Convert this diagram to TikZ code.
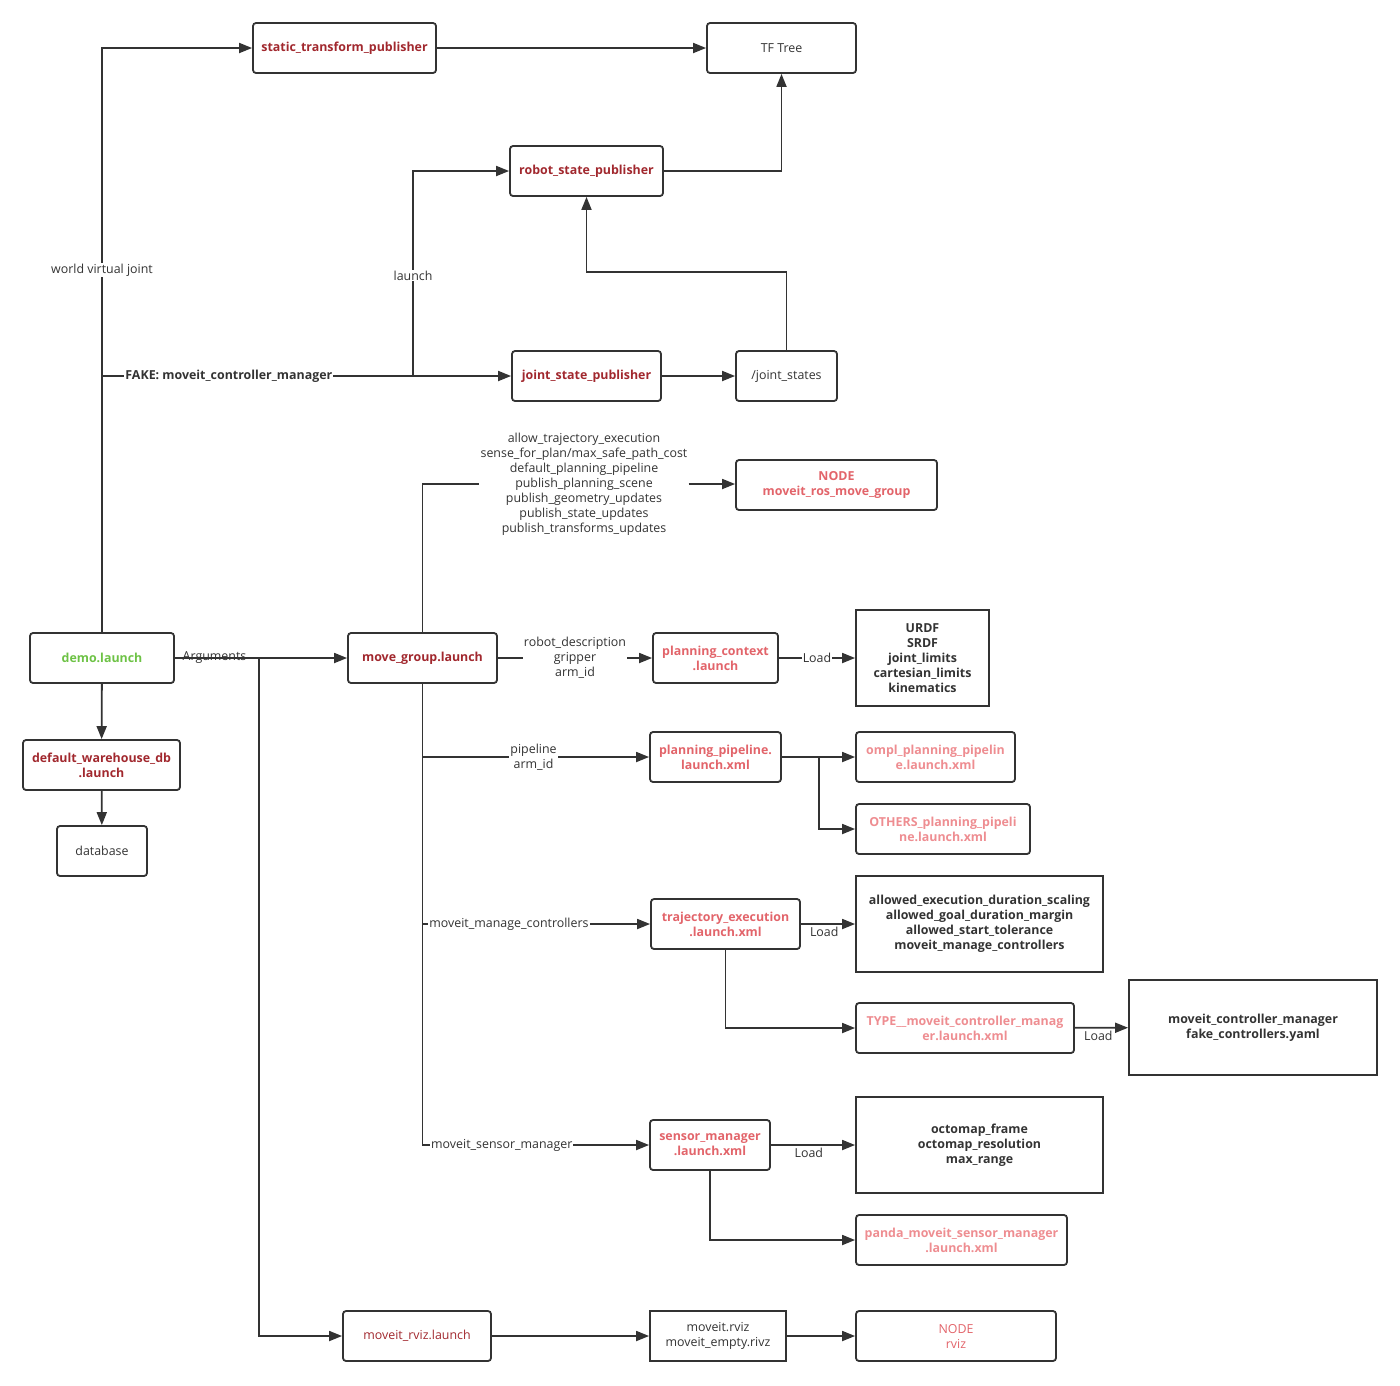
\documentclass[tikz,border=0pt]{standalone}
\usepackage{fontspec}
\setmainfont{Open Sans}
\usetikzlibrary{arrows.meta}
\definecolor{mvline}{HTML}{333333}
\definecolor{mvtext}{HTML}{333333}
\definecolor{mvdred}{HTML}{A1282E}
\definecolor{mvlred}{HTML}{E2646A}
\definecolor{mvpink}{HTML}{EE8D91}
\definecolor{mvgreen}{HTML}{6DC245}
\newcommand{\mvtxt}{\fontsize{12.4}{15}\selectfont}
\tikzset{
  box/.style={draw=mvline,line width=1.8pt,minimum height=50pt,inner sep=0pt,align=center},
  lbl/.style={fill=white,inner sep=1pt,font=\mvtxt,text=mvtext,align=center},
  lbln/.style={inner sep=2pt,font=\mvtxt,text=mvtext},
  arr/.style={draw=mvline,line width=1.8pt,-{Triangle[length=13pt,width=10pt]}},
  wire/.style={draw=mvline,line width=1.8pt}}

\begin{document}
\begin{tikzpicture}[x=1pt,y=-1pt]
  \useasboundingbox (0,0) rectangle (1400,1385);
  % boxes
  \foreach \n/\x/\y/\w/\h/\c/\r/\f/\txt in {
    stp/344.5/48/183/50/mvdred/3/\bfseries/{static\_transform\_publisher},
    tf/781.5/48/149/50/mvtext/3/\mdseries/{TF Tree},
    rsp/586.5/171/153/50/mvdred/3/\bfseries/{robot\_state\_publisher},
    jsp/586.5/376/149/50/mvdred/3/\bfseries/{joint\_state\_publisher},
    js/786.5/376/101/50/mvtext/3/\mdseries/{/joint\_states},
    nmg/836.5/485/201/50/mvlred/3/\bfseries/{NODE\\moveit\_ros\_move\_group},
    demo/102/658/144/50/mvgreen/3/\bfseries/{demo.launch},
    mg/422.5/658/149/50/mvdred/3/\bfseries/{move\_group.launch},
    pc/715.5/658/125/50/mvlred/3/\bfseries/{planning\_context\\.launch},
    urdf/922.5/658/133/96/mvtext/0/\bfseries/{URDF\\SRDF\\joint\_limits\\cartesian\_limits\\kinematics},
    dwh/101.5/765/157/50/mvdred/3/\bfseries/{default\_warehouse\_db\\.launch},
    db/102/851/90/50/mvtext/3/\mdseries/{database},
    pp/715.5/757/131/50/mvlred/3/\bfseries/{planning\_pipeline.\\launch.xml},
    ompl/935.5/757/159/50/mvpink/3/\bfseries/{ompl\_planning\_pipelin\\e.launch.xml},
    oth/943/829/174/50/mvpink/3/\bfseries/{OTHERS\_planning\_pipeli\\ne.launch.xml},
    te/725.5/924/149/50/mvlred/3/\bfseries/{trajectory\_execution\\.launch.xml},
    alw/979.5/924/247/96/mvtext/0/\bfseries/{allowed\_execution\_duration\_scaling\\allowed\_goal\_duration\_margin\\allowed\_start\_tolerance\\moveit\_manage\_controllers},
    typ/965/1028/218/50/mvpink/3/\bfseries/{TYPE\_\_moveit\_controller\_manag\\er.launch.xml},
    mcm/1253/1027.5/248/95/mvtext/0/\bfseries/{moveit\_controller\_manager\\fake\_controllers.yaml},
    sm/710/1145/120/50/mvlred/3/\bfseries/{sensor\_manager\\.launch.xml},
    oct/979.5/1145/247/96/mvtext/0/\bfseries/{octomap\_frame\\octomap\_resolution\\max\_range},
    pnd/961.5/1240/211/50/mvpink/3/\bfseries/{panda\_moveit\_sensor\_manager\\.launch.xml},
    rviz/417/1336/148/50/mvdred/3/\mdseries/{moveit\_rviz.launch},
    rvf/718/1336/136/50/mvtext/0/\mdseries/{moveit.rviz\\moveit\_empty.rivz},
    nrv/956/1336/200/50/mvlred/3/\mdseries/{NODE\\rviz}}
    \node[box,minimum width=\w pt,minimum height=\h pt,rounded corners=\r pt,
          text=\c,font=\mvtxt\f] (\n) at (\x,\y) {\txt};
  % junctions
  \coordinate (jf) at (102,376);
  \coordinate (jl) at (413,376);
  \coordinate (jr) at (259,658);
  \coordinate (jp) at (819,757);
  % top part
  \draw[arr] (demo.north) |- (stp.west) node[lbl,pos=0.31]{world virtual joint};
  \draw[arr] (jf) -- (jsp.west) node[lbl,pos=0.31,font=\mvtxt\bfseries]{FAKE: moveit\_controller\_manager};
  \draw[arr] (jl) |- (rsp.west) node[lbl,pos=0.245]{launch};
  \draw[arr] (stp) -- (tf);
  \draw[arr] (rsp.east) -| (tf.south);
  \draw[arr] (jsp) -- (js);
  \draw[arr] (js.north) -- ++(0,-78) -| (rsp.south);
  % move_group parameters
  \node[lbl,fill=none] (prm) at (584,484) {allow\_trajectory\_execution\\sense\_for\_plan/max\_safe\_path\_cost\\default\_planning\_pipeline\\publish\_planning\_scene\\publish\_geometry\_updates\\publish\_state\_updates\\publish\_transforms\_updates};
  \draw[wire] (mg.north) |- (prm.west);
  \draw[arr] (prm.east) -- (prm.east -| nmg.west);
  % demo.launch
  \draw[arr] (demo) -- (mg) node[lbln,pos=0.23]{Arguments};
  \draw[arr] (jr) |- (rviz.west);
  \draw[arr] (demo) -- (dwh);
  \draw[arr] (dwh) -- (db);
  % move_group.launch
  \draw[arr] (mg) -- (pc) node[lbl,pos=0.5]{robot\_description\\gripper\\arm\_id};
  \draw[arr] (pc) -- (urdf) node[lbl,pos=0.5]{Load};
  \draw[arr] (mg.south |- pp) -- (pp) node[lbl,pos=0.49]{pipeline\\arm\_id};
  \draw[arr] (mg.south |- te) -- (te) node[lbl,pos=0.38]{moveit\_manage\_controllers};
  \draw[arr] (mg.south) |- (sm.west) node[lbl,pos=0.675]{moveit\_sensor\_manager};
  \draw[arr] (pp) -- (ompl);
  \draw[arr] (jp) |- (oth.west);
  \draw[arr] (te) -- (alw) node[lbln,below,pos=0.43]{Load};
  \draw[arr] (te.south) |- (typ.west);
  \draw[arr] (typ) -- (mcm) node[lbln,below,pos=0.44]{Load};
  \draw[arr] (sm) -- (oct) node[lbln,below,pos=0.45]{Load};
  \draw[arr] (sm.south) |- (pnd.west);
  \draw[arr] (rviz) -- (rvf);
  \draw[arr] (rvf) -- (nrv);
\end{tikzpicture}
\end{document}
